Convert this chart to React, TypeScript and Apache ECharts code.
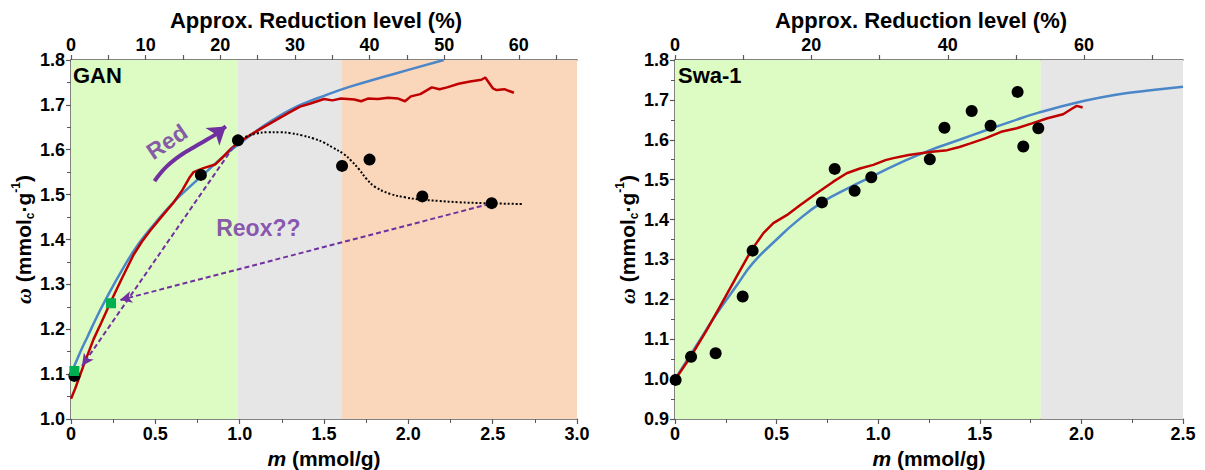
import React, { useEffect, useRef } from 'react';
import * as echarts from 'echarts';

// ---------- DATA ----------
// GAN panel (left)
const ganBands = [0, 0.99, 1.607, 3.0];
const ganModel = [
  [0, 1.1], [0.05, 1.145], [0.1, 1.185], [0.15, 1.225], [0.2, 1.262], [0.3, 1.33], [0.4, 1.39],
  [0.5, 1.437], [0.6, 1.48], [0.7, 1.516], [0.8, 1.55], [0.9, 1.584], [1.0, 1.614], [1.1, 1.642],
  [1.2, 1.667], [1.3, 1.689], [1.4, 1.706], [1.5, 1.72], [1.65, 1.74], [1.85, 1.762], [2.0, 1.778], [2.21, 1.8],
];
const ganMeasured = [
  [0, 1.045], [0.025, 1.068], [0.08, 1.125], [0.134, 1.178], [0.18, 1.215], [0.233, 1.259],
  [0.3, 1.312], [0.371, 1.366], [0.42, 1.395], [0.47, 1.42], [0.54, 1.452], [0.607, 1.482],
  [0.66, 1.51], [0.706, 1.54], [0.726, 1.55], [0.785, 1.559], [0.854, 1.567], [0.904, 1.585],
  [0.95, 1.603], [0.989, 1.615], [1.03, 1.625], [1.081, 1.637], [1.15, 1.652], [1.22, 1.667],
  [1.29, 1.682], [1.358, 1.696], [1.42, 1.703], [1.5, 1.713], [1.55, 1.71], [1.6, 1.714],
  [1.68, 1.712], [1.72, 1.708], [1.76, 1.714], [1.82, 1.713], [1.88, 1.716], [1.94, 1.714],
  [1.98, 1.708], [2.015, 1.719], [2.071, 1.724], [2.139, 1.739], [2.185, 1.735], [2.23, 1.739],
  [2.298, 1.747], [2.366, 1.752], [2.433, 1.756], [2.456, 1.761], [2.501, 1.737], [2.524, 1.733],
  [2.569, 1.735], [2.626, 1.727],
];
const ganTrend = [
  [0.99, 1.621], [1.03, 1.628], [1.1, 1.636], [1.166, 1.639], [1.24, 1.639], [1.302, 1.637],
  [1.37, 1.632], [1.438, 1.625], [1.5, 1.616], [1.551, 1.605], [1.619, 1.59], [1.66, 1.576],
  [1.709, 1.556], [1.75, 1.536], [1.8, 1.518], [1.89, 1.502], [1.98, 1.494], [2.071, 1.489],
  [2.18, 1.486], [2.298, 1.483], [2.45, 1.481], [2.683, 1.479],
];
const ganPoints = [
  [0.02, 1.096], [0.77, 1.544], [0.99, 1.621], [1.607, 1.564], [1.77, 1.578], [2.083, 1.496], [2.494, 1.481],
];
const ganReox = [[0.02, 1.107], [0.237, 1.258]];
const ganRedPath = [
  [0.495, 1.53], [0.529, 1.547], [0.568, 1.563], [0.618, 1.579], [0.671, 1.593],
  [0.726, 1.605], [0.785, 1.618], [0.844, 1.631], [0.88, 1.64],
];
const ganRedTip = [[0.86, 1.635], [0.918, 1.652]];
const ganArrowA = [[0.99, 1.621], [0.065, 1.118]];
const ganArrowB = [[2.48, 1.479], [0.29, 1.265]];
const ganNotes = [
  { text: 'Red', at: [0.568, 1.618], rotate: 34 },
  { text: 'Reox??', at: [1.111, 1.426], rotate: 0 },
];

// Swa-1 panel (right)
const swaBands = [0, 1.8, 2.5];
const swaModel = [
  [0, 1.0], [0.1, 1.08], [0.2, 1.16], [0.3, 1.232], [0.382, 1.29], [0.5, 1.35], [0.6, 1.396],
  [0.723, 1.443], [0.85, 1.478], [0.966, 1.507], [1.1, 1.54], [1.25, 1.573], [1.4, 1.6],
  [1.52, 1.622], [1.65, 1.645], [1.79, 1.668], [2.01, 1.697], [2.17, 1.713], [2.34, 1.724], [2.5, 1.733],
];
const swaMeasured = [
  [0, 0.998], [0.082, 1.06], [0.156, 1.123], [0.23, 1.19], [0.303, 1.257], [0.377, 1.324],
  [0.435, 1.366], [0.484, 1.391], [0.55, 1.411], [0.615, 1.436], [0.697, 1.466], [0.779, 1.495],
  [0.845, 1.516], [0.91, 1.528], [0.976, 1.537], [1.036, 1.549], [1.075, 1.554], [1.15, 1.562],
  [1.264, 1.57], [1.34, 1.574], [1.4, 1.582], [1.454, 1.591], [1.53, 1.604], [1.605, 1.62],
  [1.682, 1.629], [1.757, 1.641], [1.833, 1.654], [1.91, 1.664], [1.957, 1.679], [1.977, 1.685],
  [2.006, 1.681],
];
const swaPoints = [
  [0.003, 0.998], [0.079, 1.056], [0.2, 1.065], [0.333, 1.207], [0.382, 1.322], [0.723, 1.443],
  [0.786, 1.527], [0.884, 1.472], [0.966, 1.506], [1.254, 1.551], [1.326, 1.63], [1.46, 1.672],
  [1.553, 1.635], [1.686, 1.72], [1.714, 1.583], [1.788, 1.629],
];

// ---------- STYLE ----------
const FONT = '"Liberation Sans", Arial, sans-serif';
const AXIS = '#595959';
const GREEN = '#DDFCC3';
const GRAY = '#E6E6E6';
const ORANGE = '#FAD7BA';
const BLUE = '#4A86C8';
const RED = '#C00000';
const PURPLE = '#7030A0';
const SQUARE = '#00B050';

const fmtOne = (v: number) => (Math.abs(v) < 1e-9 ? '0' : v.toFixed(1));

const baseAxis = (extra: any) => ({
  type: 'value',
  axisLine: { show: true, onZero: false, lineStyle: { color: AXIS, width: 1.5 } },
  axisTick: { show: true, inside: false, length: 5, lineStyle: { color: AXIS, width: 1.2 } },
  minorTick: { show: true, splitNumber: 2, length: 4, lineStyle: { color: AXIS, width: 1 } },
  splitLine: { show: false },
  minorSplitLine: { show: false },
  axisLabel: { color: '#000', fontWeight: 'bold', fontSize: 18, fontFamily: FONT, margin: 6, hideOverlap: false },
  nameTextStyle: { color: '#000', fontWeight: 'bold', fontSize: 21, fontFamily: FONT },
  ...extra,
});

const topAxis = (grid: number, max: number, labelStep: number) =>
  baseAxis({
    gridIndex: grid,
    position: 'top',
    min: 0,
    max,
    interval: labelStep / 2,
    minorTick: { show: false },
    axisLabel: {
      color: '#000', fontWeight: 'bold', fontSize: 18, fontFamily: FONT, margin: 6, showMaxLabel: false,
      formatter: (v: number) => (Math.abs(v / labelStep - Math.round(v / labelStep)) < 1e-6 ? String(Math.round(v)) : ''),
    },
    name: 'Approx. Reduction level (%)',
    nameLocation: 'middle',
    nameGap: 27,
    nameTextStyle: { color: '#000', fontWeight: 'bold', fontSize: 22, fontFamily: FONT, padding: [0, 16, 0, 0] },
  });

const bottomAxis = (grid: number, max: number) =>
  baseAxis({
    gridIndex: grid,
    position: 'bottom',
    min: 0,
    max,
    interval: 0.5,
    axisLabel: { color: '#000', fontWeight: 'bold', fontSize: 18, fontFamily: FONT, margin: 6, formatter: fmtOne },
    name: '{i|m} (mmol/g)',
    nameLocation: 'middle',
    nameGap: 26,
    nameTextStyle: {
      color: '#000', fontWeight: 'bold', fontSize: 21, fontFamily: FONT,
      rich: { i: { fontStyle: 'italic', fontWeight: 'bold', fontSize: 21, fontFamily: FONT, color: '#000' } },
    },
  });

const leftAxis = (grid: number, min: number) =>
  baseAxis({
    gridIndex: grid,
    min,
    max: 1.8,
    interval: 0.1,
    axisLabel: { color: '#000', fontWeight: 'bold', fontSize: 18, fontFamily: FONT, margin: 6, formatter: fmtOne },
    name: '{w|ω} (mmol{s|c}·g{p|-1})',
    nameLocation: 'middle',
    nameGap: 34,
    nameTextStyle: {
      color: '#000', fontWeight: 'bold', fontSize: 21, fontFamily: FONT, lineHeight: 26,
      rich: {
        w: { fontStyle: 'italic', fontWeight: 'bold', fontSize: 22, fontFamily: '"Liberation Serif", serif', color: '#000', lineHeight: 26 },
        s: { fontWeight: 'bold', fontSize: 12, fontFamily: FONT, color: '#000', verticalAlign: 'bottom', lineHeight: 26 },
        p: { fontWeight: 'bold', fontSize: 12, fontFamily: FONT, color: '#000', verticalAlign: 'top', lineHeight: 26 },
      },
    },
  });

const bandArea = (bounds: number[], colors: string[]) => ({
  silent: true,
  data: colors.map((c, i) => [{ xAxis: bounds[i], itemStyle: { color: c } }, { xAxis: bounds[i + 1] }]),
});

const dotStyle = { color: '#000', opacity: 1 };

const option: any = {
  animation: false,
  backgroundColor: '#fff',
  grid: [
    { left: 71, right: 628, top: 60, bottom: 51, outerBoundsMode: 'none' },
    { left: 675, right: 22, top: 60, bottom: 51, outerBoundsMode: 'none' },
  ],
  xAxis: [bottomAxis(0, 3), topAxis(0, 67.8, 10), bottomAxis(1, 2.5), topAxis(1, 74.5, 20)],
  yAxis: [leftAxis(0, 1.0), leftAxis(1, 0.9)],
  graphic: [
    { type: 'text', left: 73, top: 64, style: { text: 'GAN', font: `bold 22px ${FONT}`, fill: '#000' }, z: 100 },
    { type: 'text', left: 678, top: 64, style: { text: 'Swa-1', font: `bold 22px ${FONT}`, fill: '#000' }, z: 100 },
  ],
  series: [
    // ---- GAN ----
    {
      type: 'line', xAxisIndex: 0, yAxisIndex: 0, data: ganModel, smooth: 0.5, symbol: 'none', z: 2,
      lineStyle: { color: BLUE, width: 2.5 },
      markArea: bandArea(ganBands, [GREEN, GRAY, ORANGE]),
    },
    {
      type: 'line', xAxisIndex: 0, yAxisIndex: 0, data: ganMeasured, symbol: 'none', z: 3,
      lineStyle: { color: RED, width: 2.5 },
    },
    {
      type: 'line', xAxisIndex: 0, yAxisIndex: 0, data: ganTrend, smooth: 0.4, symbol: 'none', z: 3,
      lineStyle: { color: '#000', width: 2, type: 'dotted' },
      markLine: {
        silent: true,
        symbol: ['none', 'arrow'],
        symbolSize: [9, 12],
        label: { show: false },
        lineStyle: { color: PURPLE, width: 2, type: [5, 3] },
        data: [
          [{ coord: ganArrowA[0] }, { coord: ganArrowA[1] }],
          [{ coord: ganArrowB[0] }, { coord: ganArrowB[1] }],
        ],
      },
    },
    {
      type: 'line', xAxisIndex: 0, yAxisIndex: 0, data: ganRedPath, smooth: 0.5, symbol: 'none', z: 4,
      lineStyle: { color: PURPLE, width: 4, cap: 'butt' },
      markLine: {
        silent: true,
        symbol: ['none', 'arrow'],
        symbolSize: [17, 17],
        label: { show: false },
        lineStyle: { color: PURPLE, width: 4, type: 'solid' },
        data: [[{ coord: ganRedTip[0] }, { coord: ganRedTip[1] }]],
      },
    },
    {
      type: 'scatter', xAxisIndex: 0, yAxisIndex: 0, data: ganPoints, symbolSize: 12, z: 6,
      itemStyle: dotStyle,
    },
    {
      type: 'scatter', xAxisIndex: 0, yAxisIndex: 0, data: ganReox, symbol: 'rect', symbolSize: 10, z: 7,
      itemStyle: { color: SQUARE, opacity: 1 },
    },
    {
      type: 'scatter', xAxisIndex: 0, yAxisIndex: 0, symbolSize: 1, z: 8, silent: true,
      itemStyle: { color: 'rgba(0,0,0,0)' },
      data: ganNotes.map((n) => ({
        value: n.at,
        label: {
          show: true, position: 'inside', formatter: n.text, rotate: n.rotate,
          color: PURPLE, fontWeight: 'bold', fontSize: 23, fontFamily: FONT,
        },
      })),
    },
    // ---- Swa-1 ----
    {
      type: 'line', xAxisIndex: 2, yAxisIndex: 1, data: swaModel, smooth: 0.5, symbol: 'none', z: 2,
      lineStyle: { color: BLUE, width: 2.5 },
      markArea: bandArea(swaBands, [GREEN, GRAY]),
    },
    {
      type: 'line', xAxisIndex: 2, yAxisIndex: 1, data: swaMeasured, symbol: 'none', z: 3,
      lineStyle: { color: RED, width: 2.5 },
    },
    {
      type: 'scatter', xAxisIndex: 2, yAxisIndex: 1, data: swaPoints, symbolSize: 12, z: 6,
      itemStyle: dotStyle,
    },
  ],
};

export default function App() {
  const ref = useRef<HTMLDivElement>(null);
  useEffect(() => {
    const chart = echarts.init(ref.current!, null, { renderer: 'svg' });
    chart.setOption(option);
    return () => chart.dispose();
  }, []);
  return (
    <div
      ref={ref}
      style={{ position: 'fixed', left: 0, top: 0, width: 1205, height: 470, background: '#fff' }}
    />
  );
}
